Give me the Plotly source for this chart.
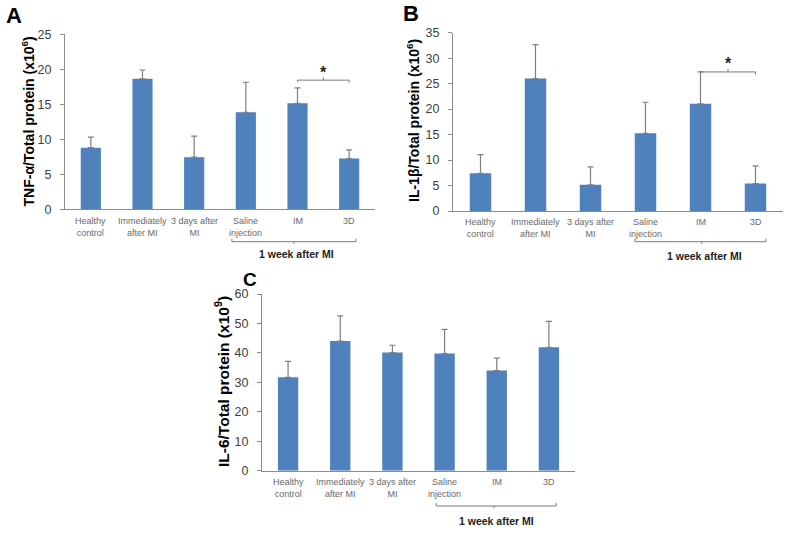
import plotly.graph_objects as go

categories = ["Healthy<br>control", "Immediately<br>after MI", "3 days after<br>MI",
              "Saline<br>injection", "IM", "3D"]

tnf_values = [8.8, 18.65, 7.45, 13.85, 15.15, 7.25]
tnf_errors = [1.5, 1.25, 3.0, 4.3, 2.2, 1.25]

il1b_values = [7.4, 26.0, 5.15, 15.25, 21.05, 5.4]
il1b_errors = [3.65, 6.65, 3.5, 6.1, 6.25, 3.45]

il6_values = [31.7, 44.0, 40.1, 39.8, 34.0, 41.9]
il6_errors = [5.4, 8.6, 2.5, 8.2, 4.2, 8.8]

BAR = "#4F81BD"
ERR = "#7F7F7F"
AX = "#8C8C8C"
W, H = 799, 537

def px(x):
    return x / W

def py(y):
    return 1 - y / H

xs = list(range(len(categories)))

fig = go.Figure()
panels = [
    ("x", "y", tnf_values, tnf_errors),
    ("x2", "y2", il1b_values, il1b_errors),
    ("x3", "y3", il6_values, il6_errors),
]
for xa, ya, vals, errs in panels:
    fig.add_trace(go.Bar(
        x=xs, y=vals, xaxis=xa, yaxis=ya, width=0.39,
        marker=dict(color=BAR, line=dict(width=0)),
        error_y=dict(type="data", array=errs, arrayminus=[0] * len(errs),
                     symmetric=False, color=ERR, thickness=1.2, width=3),
        showlegend=False, hoverinfo="skip"))

tickfont_x = dict(family="Liberation Sans, Arial", size=9, color="#6a6a6a")
tickfont_y = dict(family="Liberation Sans, Arial", size=12.5, color="#404040")

def xaxis(domain, anchor):
    return dict(domain=domain, anchor=anchor, range=[-0.5, 5.5],
                tickvals=xs, showticklabels=False, automargin=False,
                showline=True, linecolor=AX, linewidth=1, ticks="",
                showgrid=False, zeroline=False, fixedrange=True)

def yaxis(domain, anchor, rng, dtick):
    return dict(domain=domain, anchor=anchor, range=rng, dtick=dtick, automargin=False,
                tickfont=tickfont_y, showline=True, linecolor=AX, linewidth=1,
                ticks="outside", ticklen=4, tickcolor=AX, showgrid=False,
                zeroline=False, fixedrange=True, ticklabelstandoff=6)

fig.update_layout(
    width=W, height=H, margin=dict(l=0, r=0, t=0, b=0, pad=0, autoexpand=False),
    paper_bgcolor="white", plot_bgcolor="white",
    xaxis=xaxis([px(65), px(375)], "y"),
    yaxis=yaxis([py(209.3), py(34.3)], "x", [0, 25], 5),
    xaxis2=xaxis([px(453), px(783)], "y2"),
    yaxis2=yaxis([py(211), py(32.7)], "x2", [0, 35], 5),
    xaxis3=xaxis([px(262), px(575)], "y3"),
    yaxis3=yaxis([py(470.7), py(294)], "x3", [0, 60], 10),
)

ann = []
C = dict(xanchor="center", yanchor="middle")

# x tick labels (category axis labels placed under each bar)
for xr, top in [("x", 214), ("x2", 215), ("x3", 475)]:
    for i, lab in enumerate(categories):
        ann.append(dict(text=lab, x=i, y=py(top), xref=xr, yref="paper", showarrow=False,
                        xanchor="center", yanchor="top", font=tickfont_x))

# y-axis titles
ann.append(dict(text="<b>TNF-α/Total protein (x10<sup>6</sup>)</b>", x=px(28.5), y=py(122),
                xref="paper", yref="paper", textangle=-90, showarrow=False,
                font=dict(family="Liberation Sans, Arial", size=14, color="black"), **C))
ann.append(dict(text="<b>IL-1β/Total protein (x10<sup>6</sup>)</b>", x=px(413), y=py(121),
                xref="paper", yref="paper", textangle=-90, showarrow=False,
                font=dict(family="Liberation Sans, Arial", size=14, color="black"), **C))
ann.append(dict(text="<b>IL-6/Total protein (x10<sup>9</sup>)</b>", x=px(222), y=py(382),
                xref="paper", yref="paper", textangle=-90, showarrow=False,
                font=dict(family="Liberation Sans, Arial", size=15.5, color="black"), **C))
# panel letters
for letter, lx, ly, sz in [("A", 14, 15, 22), ("B", 411, 14, 22), ("C", 250, 279, 19)]:
    ann.append(dict(text="<b>%s</b>" % letter, x=px(lx), y=py(ly), xref="paper", yref="paper",
                    showarrow=False, font=dict(family="Liberation Sans, Arial", size=sz, color="black"), **C))

shapes = []
# "1 week after MI" brackets
week_brackets = [("x", 2.73, 5.13, 3.93, 241.7, 253.5), ("x2", 2.81, 5.19, 4.02, 241.7, 255.5),
                 ("x3", 2.84, 5.14, 3.95, 506, 521)]
for xr, x0, x1, xc, ly, ty in week_brackets:
    line = dict(color="#7a7a7a", width=1)
    shapes.append(dict(type="line", xref=xr, yref="paper", x0=x0, x1=x1, y0=py(ly), y1=py(ly), line=line))
    shapes.append(dict(type="line", xref=xr, yref="paper", x0=x0, x1=x0, y0=py(ly), y1=py(ly - 3), line=line))
    shapes.append(dict(type="line", xref=xr, yref="paper", x0=x1, x1=x1, y0=py(ly), y1=py(ly - 3), line=line))
    shapes.append(dict(type="line", xref=xr, yref="paper", x0=xc, x1=xc, y0=py(ly), y1=py(ly + 2), line=line))
    ann.append(dict(text="<b>1 week after MI</b>", x=xc + 0.05, y=py(ty), xref=xr, yref="paper",
                    showarrow=False, font=dict(family="Liberation Sans, Arial", size=10.5, color="#222222"), **C))

# significance brackets
sig = [("x", "y", 4, 5, 18.45, 0.4, 19.6), ("x2", "y2", 4, 5, 27.3, 0.55, 28.9)]
for xr, yr, a, b, yv, d, ya in sig:
    line = dict(color="#7a7a7a", width=1)
    shapes.append(dict(type="line", xref=xr, yref=yr, x0=a, x1=b, y0=yv, y1=yv, line=line))
    shapes.append(dict(type="line", xref=xr, yref=yr, x0=a, x1=a, y0=yv, y1=yv - d * 0.6, line=line))
    shapes.append(dict(type="line", xref=xr, yref=yr, x0=b, x1=b, y0=yv, y1=yv - d, line=line))
    shapes.append(dict(type="line", xref=xr, yref=yr, x0=(a + b) / 2, x1=(a + b) / 2, y0=yv, y1=yv + d, line=line))
    ann.append(dict(text="<b>*</b>", x=(a + b) / 2, y=ya, xref=xr, yref=yr, showarrow=False,
                    font=dict(family="Liberation Sans, Arial", size=16, color="#222222"), **C))

fig.update_layout(annotations=ann, shapes=shapes)
fig.write_html("out.html", config={"displayModeBar": False},
               post_script="document.body.style.margin='0';")
